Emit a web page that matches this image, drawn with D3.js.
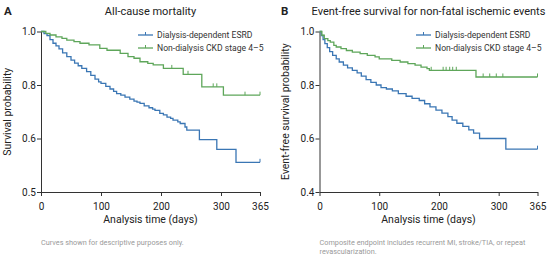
<!DOCTYPE html>
<html>
<head>
<meta charset="utf-8">
<script src="https://cdn.jsdelivr.net/npm/d3@7"></script>
<style>
  body { margin: 0; background: #fff; }
  svg { font-family: Roboto, "Open Sans", sans-serif; }
</style>
</head>
<body>
<svg id="chart" width="550" height="258"></svg>
<script>
// ---- data ----
const seriesNames = ["Dialysis-dependent ESRD", "Non-dialysis CKD stage 4\u20135"];
const xTicks = [0, 100, 200, 300, 365];

// Panel A: all-cause mortality
const aBlueT = [0, 5, 10, 15, 20, 25, 30, 36, 43, 50, 56, 62, 68, 76, 83, 90, 96, 100, 108, 115, 121, 126, 133, 140, 148, 155, 160, 165, 172, 180, 186, 190, 198, 204, 210, 216, 220, 228, 232, 240, 243, 264, 293, 325];
const aBlueV = [1.0, 0.992, 0.985, 0.97, 0.956, 0.946, 0.935, 0.92, 0.906, 0.893, 0.882, 0.872, 0.862, 0.85, 0.836, 0.822, 0.812, 0.806, 0.795, 0.785, 0.776, 0.768, 0.762, 0.755, 0.747, 0.74, 0.736, 0.731, 0.722, 0.715, 0.71, 0.705, 0.694, 0.688, 0.68, 0.675, 0.669, 0.662, 0.656, 0.643, 0.631, 0.596, 0.559, 0.511];
const aGreenT = [0, 8, 15, 25, 35, 43, 55, 65, 80, 98, 110, 132, 145, 155, 165, 178, 187, 204, 237, 268, 304];
const aGreenV = [1.0, 0.993, 0.987, 0.98, 0.974, 0.968, 0.962, 0.956, 0.95, 0.937, 0.93, 0.918, 0.906, 0.9, 0.887, 0.881, 0.875, 0.862, 0.84, 0.793, 0.762];
const aBlueCens = [365];
const aGreenCens = [218, 245, 287, 293, 340, 365];
const aYTicks = [1.0, 0.8, 0.6, 0.4];
const aYLabels = ["1.0", "0.8", "0.6", "0.5"];

// Panel B: non-fatal ischemic events
const bBlueT = [0, 3, 6, 9, 13, 17, 22, 28, 33, 40, 47, 55, 63, 70, 78, 86, 95, 103, 112, 122, 132, 145, 155, 167, 176, 185, 195, 205, 215, 222, 230, 240, 250, 258, 268, 312];
const bBlueV = [1.0, 0.985, 0.97, 0.955, 0.94, 0.925, 0.911, 0.898, 0.886, 0.874, 0.864, 0.855, 0.845, 0.833, 0.82, 0.81, 0.8, 0.79, 0.785, 0.778, 0.768, 0.758, 0.75, 0.742, 0.73, 0.718, 0.706, 0.695, 0.682, 0.669, 0.657, 0.645, 0.632, 0.62, 0.6, 0.56];
const bGreenT = [0, 4, 8, 14, 18, 24, 28, 36, 45, 55, 68, 80, 93, 100, 121, 135, 148, 160, 170, 180, 184, 262];
const bGreenV = [1.0, 0.986, 0.973, 0.966, 0.96, 0.948, 0.942, 0.936, 0.929, 0.923, 0.917, 0.911, 0.905, 0.898, 0.892, 0.886, 0.88, 0.874, 0.867, 0.861, 0.855, 0.83];
const bBlueCens = [365];
const bGreenCens = [187, 207, 212, 218, 223, 229, 274, 285, 296, 307, 365];
const bYTicks = [1.0, 0.8, 0.6, 0.4];
const bYLabels = ["1.0", "0.8", "0.6", "0.4"];

const colors = ["#3a76b4", "#5ea65a"];
const svg = d3.select("#chart");

function stepValue(ts, vs, t) {
  let v = vs[0];
  for (let i = 0; i < ts.length; i++) if (ts[i] <= t) v = vs[i];
  return v;
}

function drawPanel(p) {
  const g = svg.append("g");
  const x = d3.scaleLinear().domain([0, 365]).range([p.x0, p.x1]);
  const y = d3.scaleLinear().domain([0.4, 1.0]).range([p.yBot, p.yTop]);

  // panel letter + title
  g.append("text").attr("x", p.letterX).attr("y", 15)
    .attr("font-size", 11.5).attr("font-weight", 700).attr("fill", "#222").text(p.letter);
  g.append("text").attr("x", (p.x0 + p.x1) / 2).attr("y", 15)
    .attr("text-anchor", "middle").attr("font-size", 11).attr("fill", "#222").text(p.title);

  // axes
  const xAxis = d3.axisBottom(x).tickValues(xTicks).tickSize(4).tickSizeOuter(0);
  const gx = g.append("g").attr("transform", `translate(0,${p.yBot})`).call(xAxis);
  const yAxis = d3.axisLeft(y).tickValues(p.yTicks).tickSize(4).tickSizeOuter(0)
    .tickFormat((d, i) => p.yLabels[i]);
  const gy = g.append("g").attr("transform", `translate(${p.x0},0)`).call(yAxis);
  [gx, gy].forEach(a => {
    a.select(".domain").attr("stroke", "#333").attr("stroke-width", 1);
    a.selectAll(".tick line").attr("stroke", "#333");
    a.selectAll(".tick text").attr("fill", "#222").attr("font-size", 10)
      .attr("font-family", "Roboto, sans-serif");
  });
  gx.selectAll(".tick text").attr("dy", "1.05em");
  gy.selectAll(".tick text").attr("x", -5);

  g.append("text").attr("x", (p.x0 + p.x1) / 2).attr("y", 223)
    .attr("text-anchor", "middle").attr("font-size", 10.5).attr("fill", "#222")
    .text("Analysis time (days)");
  g.append("text")
    .attr("transform", `translate(${p.yLabelX},${(p.yTop + p.yBot) / 2}) rotate(-90)`)
    .attr("text-anchor", "middle").attr("font-size", 10.5).attr("fill", "#222")
    .text(p.yLabel);

  // curves
  const line = d3.line().x(d => x(d[0])).y(d => y(d[1])).curve(d3.curveStepAfter);
  p.series.forEach((s, i) => {
    const pts = s.t.map((t, j) => [t, s.v[j]]);
    pts.push([365, s.v[s.v.length - 1]]);
    g.append("path").datum(pts).attr("d", line)
      .attr("fill", "none").attr("stroke", colors[i]).attr("stroke-width", 1.3);
    g.selectAll(null).data(s.cens).enter().append("line")
      .attr("x1", d => x(d)).attr("x2", d => x(d))
      .attr("y1", d => y(stepValue(s.t, s.v, d)))
      .attr("y2", d => y(stepValue(s.t, s.v, d)) - 3.5)
      .attr("stroke", colors[i]).attr("stroke-width", 1);
  });

  // legend
  seriesNames.forEach((name, i) => {
    const ly = 35 + i * 13;
    g.append("line").attr("x1", p.legX).attr("x2", p.legX + 15).attr("y1", ly).attr("y2", ly)
      .attr("stroke", colors[i]).attr("stroke-width", 1.3);
    g.append("line").attr("x1", p.legX + 7.5).attr("x2", p.legX + 7.5).attr("y1", ly).attr("y2", ly - 3)
      .attr("stroke", colors[i]).attr("stroke-width", 1);
    g.append("text").attr("x", p.legX + 19).attr("y", ly).attr("dy", "0.35em")
      .attr("font-size", 8.6).attr("fill", "#333").text(name);
  });

  // footnote
  p.note.forEach((t, i) => {
    g.append("text").attr("x", p.x0).attr("y", 245 + i * 9)
      .attr("font-size", 7.3).attr("fill", "#9a9a9a").text(t);
  });
}

drawPanel({
  letter: "A", letterX: 4, title: "All-cause mortality",
  x0: 41, x1: 260, yTop: 31.5, yBot: 192,
  yTicks: aYTicks, yLabels: aYLabels, yLabel: "Survival probability", yLabelX: 11,
  legX: 138,
  series: [
    { t: aBlueT, v: aBlueV, cens: aBlueCens },
    { t: aGreenT, v: aGreenV, cens: aGreenCens }
  ],
  note: ["Curves shown for descriptive purposes only."]
});

drawPanel({
  letter: "B", letterX: 281, title: "Event-free survival for non-fatal ischemic events",
  x0: 319.5, x1: 537.5, yTop: 31.5, yBot: 192,
  yTicks: bYTicks, yLabels: bYLabels, yLabel: "Event-free survival probability", yLabelX: 289,
  legX: 416,
  series: [
    { t: bBlueT, v: bBlueV, cens: bBlueCens },
    { t: bGreenT, v: bGreenV, cens: bGreenCens }
  ],
  note: ["Composite endpoint includes recurrent MI, stroke/TIA, or repeat", "revascularization."]
});
</script>
</body>
</html>
